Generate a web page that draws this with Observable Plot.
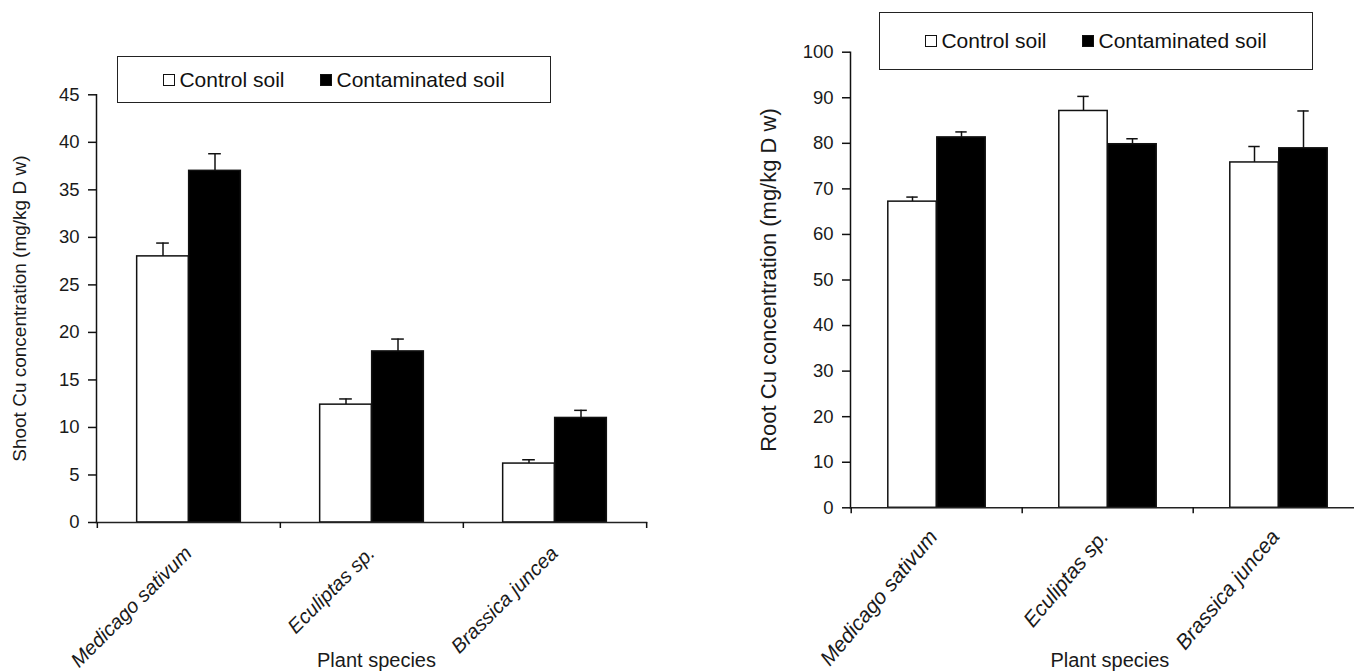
<!DOCTYPE html>
<html>
<head>
<meta charset="utf-8">
<script src="https://cdn.jsdelivr.net/npm/d3@7"></script>
<script src="https://cdn.jsdelivr.net/npm/@observablehq/plot@0.6"></script>
<style>
  html, body { margin: 0; padding: 0; background: white; overflow: hidden; width: 1354px; height: 671px; }
  .wrap { position: absolute; top: 0; }
  .legend { position: absolute; box-sizing: border-box; border: 1.5px solid #222; background: white;
            display: flex; align-items: center; justify-content: center; gap: 36px;
            font-family: "Liberation Sans", Arial, sans-serif; font-size: 21px; color: #111; }
  .item { display: flex; align-items: center; }
  .sw { width: 12px; height: 12px; box-sizing: border-box; border: 1.2px solid #111; margin-right: 4px; }
</style>
</head>
<body>
<div id="left" class="wrap" style="left:0px;width:660px"></div>
<div id="right" class="wrap" style="left:680px;width:690px"></div>
<script>
// ---- data ----
const species = ["Medicago sativum", "Eculiptas sp.", "Brassica juncea"];
const seriesNames = ["Control soil", "Contaminated soil"];
const shootControl = [28, 12.4, 6.2];
const shootControlErr = [1.4, 0.6, 0.4];
const shootContaminated = [37, 18, 11];
const shootContaminatedErr = [1.8, 1.3, 0.8];
const rootControl = [67.2, 87.1, 75.8];
const rootControlErr = [1.0, 3.2, 3.5];
const rootContaminated = [81.3, 79.8, 78.9];
const rootContaminatedErr = [1.2, 1.2, 8.2];
const shootTicks = [0, 5, 10, 15, 20, 25, 30, 35, 40, 45];
const rootTicks = [0, 10, 20, 30, 40, 50, 60, 70, 80, 90, 100];
const xTitle = "Plant species";
const shootTitle = "Shoot Cu concentration (mg/kg D w)";
const rootTitle = "Root Cu concentration (mg/kg D w)";

function chart(cfg) {
  const plotW = cfg.width - cfg.marginLeft - cfg.marginRight;
  const bw = plotW / species.length;
  const outer = (bw - 2 * cfg.barW) / 2;
  const mk = (vals, errs, s) => species.map((sp, i) => ({species: sp, series: s, value: vals[i], err: errs[i]}));
  const ctrl = mk(cfg.control, cfg.controlErr, seriesNames[0]);
  const cont = mk(cfg.cont, cfg.contErr, seriesNames[1]);
  const cCenter = outer + cfg.barW / 2;          // from band start
  const kCenter = outer + cfg.barW * 1.5;
  const capIn = (c) => ({insetLeft: c - cfg.capW / 2, insetRight: bw - c - cfg.capW / 2});
  return Plot.plot({
    width: cfg.width, height: 671,
    marginLeft: cfg.marginLeft, marginRight: cfg.marginRight,
    marginTop: cfg.marginTop, marginBottom: cfg.marginBottom,
    style: {fontFamily: "Liberation Sans, Arial, sans-serif", fontSize: "18px", color: "#111", background: "white"},
    x: {domain: species, padding: 0, axis: null},
    y: {domain: [0, cfg.yMax], axis: null},
    marks: [
      // error bars (upper)
      Plot.ruleX(ctrl, {x: "species", y1: "value", y2: d => d.value + d.err, dx: cCenter - bw / 2, stroke: "#111", strokeWidth: 1.5}),
      Plot.ruleX(cont, {x: "species", y1: "value", y2: d => d.value + d.err, dx: kCenter - bw / 2, stroke: "#111", strokeWidth: 1.5}),
      Plot.tickY(ctrl, {x: "species", y: d => d.value + d.err, ...capIn(cCenter), stroke: "#111", strokeWidth: 1.5}),
      Plot.tickY(cont, {x: "species", y: d => d.value + d.err, ...capIn(kCenter), stroke: "#111", strokeWidth: 1.5}),
      // bars
      Plot.barY(ctrl, {x: "species", y: "value", fill: "white", stroke: "#111", strokeWidth: 1.5,
        insetLeft: outer, insetRight: bw - outer - cfg.barW}),
      Plot.barY(cont, {x: "species", y: "value", fill: "black", stroke: "#111", strokeWidth: 1.5,
        insetLeft: outer + cfg.barW, insetRight: outer}),
      // axes lines
      Plot.frame({anchor: "left", stroke: "#111", strokeWidth: 1.5}),
      Plot.frame({anchor: "bottom", stroke: "#222", strokeWidth: 1.5}),
      // y axis ticks
      Plot.axisY({ticks: cfg.yTicks, tickSize: 8, tickPadding: 9, label: null, fontSize: 18.5, strokeWidth: 1.5, stroke: "#111", fill: "#1a1a1a"}),
      // x axis boundary ticks
      Plot.ruleX(species, {x: d => d, y1: 0, y2: 0, insetBottom: -6, dx: -bw / 2, stroke: "#111", strokeWidth: 1.5}),
      Plot.ruleX(species.slice(-1), {x: d => d, y1: 0, y2: 0, insetBottom: -6, dx: bw / 2, stroke: "#111", strokeWidth: 1.5}),
      // x tick labels
      Plot.text(species, {x: d => d, y: 0, text: d => d, rotate: cfg.xRotate, textAnchor: "end", lineAnchor: "top",
        dx: cfg.xlabDx, dy: cfg.xlabDy, fontStyle: "italic", fontSize: cfg.xlabSize, fill: "#1a1a1a"}),
      // titles
      Plot.text([xTitle], {frameAnchor: "bottom", text: d => d, textAnchor: "middle", lineAnchor: "middle",
        dx: cfg.xTitleDx, dy: cfg.xTitleDy, fontSize: 20, fill: "#1a1a1a"}),
      Plot.text([cfg.yTitle], {frameAnchor: "left", text: d => d, rotate: -90, textAnchor: "middle", lineAnchor: "middle",
        dx: cfg.yTitleDx, fontSize: cfg.yTitleSize, fill: "#1a1a1a"})
    ]
  });
}

document.getElementById("left").append(chart({
  width: 660, marginLeft: 96, marginRight: 14, marginTop: 94.3, marginBottom: 149,
  yMax: 45, yTicks: shootTicks, barW: 52, capW: 13,
  control: shootControl, controlErr: shootControlErr, cont: shootContaminated, contErr: shootContaminatedErr,
  xRotate: -45, xlabDx: -6, xlabDy: 22, xlabSize: 20, xTitleDx: 5, xTitleDy: 138,
  yTitle: shootTitle, yTitleDx: -77, yTitleSize: 19
}));
document.getElementById("right").append(chart({
  width: 690, marginLeft: 170, marginRight: 5.2, marginTop: 51.7, marginBottom: 163.7,
  yMax: 100, yTicks: rootTicks, barW: 49, capW: 12,
  control: rootControl, controlErr: rootControlErr, cont: rootContaminated, contErr: rootContaminatedErr,
  xRotate: -50, xlabDx: -10, xlabDy: 20, xlabSize: 21, xTitleDx: 2, xTitleDy: 153,
  yTitle: rootTitle, yTitleDx: -82, yTitleSize: 22
}));

function legend(left, top, w, h) {
  const d = document.createElement("div");
  d.className = "legend";
  Object.assign(d.style, {left: left + "px", top: top + "px", width: w + "px", height: h + "px"});
  seriesNames.forEach((name, i) => {
    const it = document.createElement("div"); it.className = "item";
    const sw = document.createElement("div"); sw.className = "sw";
    sw.style.background = i === 0 ? "white" : "black";
    const t = document.createElement("span"); t.textContent = name;
    it.append(sw, t); d.append(it);
  });
  document.body.append(d);
}
legend(117, 56, 434, 47);
legend(879, 12, 434, 58);
</script>
</body>
</html>
